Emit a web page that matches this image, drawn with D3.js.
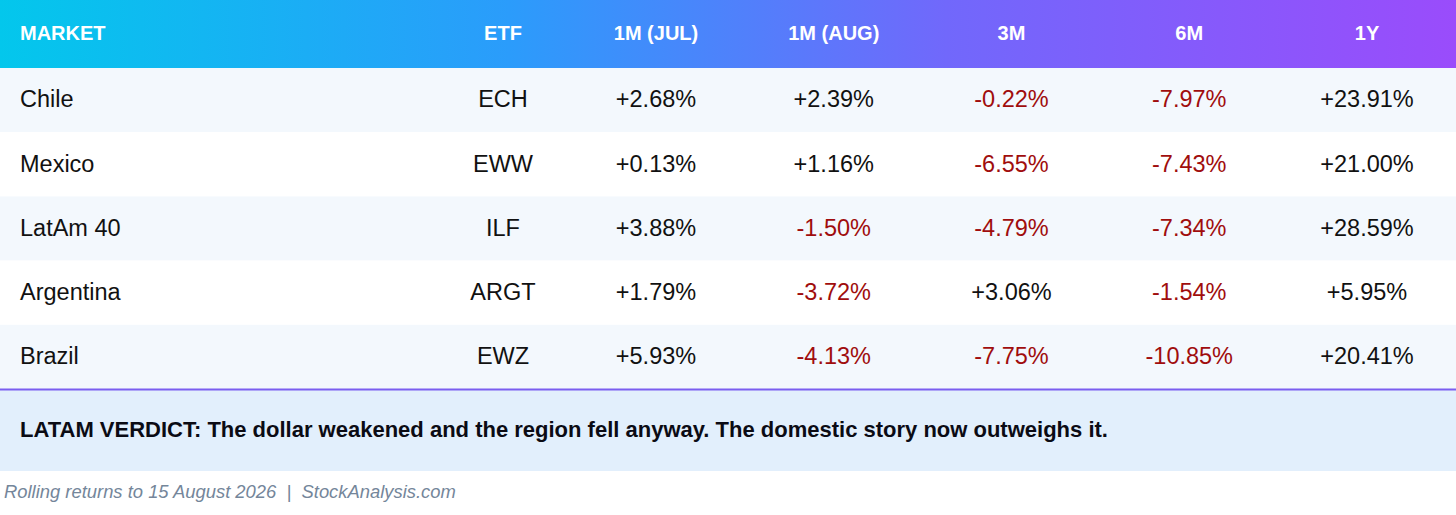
<!DOCTYPE html>
<html>
<head>
<meta charset="utf-8">
<script src="https://cdn.jsdelivr.net/npm/d3@7"></script>
<style>
  html, body { margin: 0; padding: 0; background: #fff; }
  svg { display: block; font-family: "Liberation Sans", Arial, sans-serif; }
</style>
</head>
<body>
<svg id="chart" width="1456" height="515"></svg>
<script>
// table data
var headers = ["MARKET", "ETF", "1M (JUL)", "1M (AUG)", "3M", "6M", "1Y"];
var markets = ["Chile", "Mexico", "LatAm 40", "Argentina", "Brazil"];
var etfs = ["ECH", "EWW", "ILF", "ARGT", "EWZ"];
var julReturns = [2.68, 0.13, 3.88, 1.79, 5.93];
var augReturns = [2.39, 1.16, -1.50, -3.72, -4.13];
var threeMonth = [-0.22, -6.55, -4.79, 3.06, -7.75];
var sixMonth = [-7.97, -7.43, -7.34, -1.54, -10.85];
var oneYear = [23.91, 21.00, 28.59, 5.95, 20.41];
var verdict = "LATAM VERDICT: The dollar weakened and the region fell anyway. The domestic story now outweighs it.";
var footnote = "Rolling returns to 15 August 2026  |  StockAnalysis.com";

var W = 1456, headerH = 68, tableBottom = 389;
var svg = d3.select("#chart");

// gradient for header
var defs = svg.append("defs");
var grad = defs.append("linearGradient").attr("id", "hdr").attr("x1", "0%").attr("x2", "100%");
grad.append("stop").attr("offset", "0%").attr("stop-color", "#03c7ec");
grad.append("stop").attr("offset", "35%").attr("stop-color", "#2b9cfb");
grad.append("stop").attr("offset", "65%").attr("stop-color", "#7168fb");
grad.append("stop").attr("offset", "100%").attr("stop-color", "#9a4cfb");

var y = d3.scaleBand().domain(markets).range([headerH, tableBottom]);
// numeric columns evenly spaced, ETF column sits a bit closer
var xNum = d3.scalePoint().domain(headers.slice(2)).range([656, 1367]);
var colX = function(h, i){
  if (i == 0) return 20;
  if (i == 1) return 503;
  return xNum(h);
};

svg.append("rect").attr("x", 0).attr("y", 0).attr("width", W).attr("height", headerH).attr("fill", "url(#hdr)");

svg.selectAll("text.hdr").data(headers).enter().append("text")
  .attr("class", "hdr")
  .attr("x", function(d, i){ return colX(d, i); })
  .attr("y", headerH / 2 - 1)
  .attr("dy", "0.35em")
  .attr("text-anchor", function(d, i){ return i == 0 ? "start" : "middle"; })
  .attr("fill", "#fff")
  .attr("font-weight", "bold")
  .attr("font-size", 20)
  .text(function(d){ return d; });

var rows = markets.map(function(m, i){
  return { market: m, vals: [etfs[i], julReturns[i], augReturns[i], threeMonth[i], sixMonth[i], oneYear[i]] };
});

var g = svg.selectAll("g.row").data(rows).enter().append("g").attr("class", "row")
  .attr("transform", function(d){ return "translate(0," + y(d.market) + ")"; });

g.append("rect").attr("x", 0).attr("width", W).attr("height", y.bandwidth())
  .attr("fill", function(d, i){ return i % 2 == 0 ? "#f3f8fd" : "#ffffff"; });

g.append("text").attr("x", 20).attr("y", y.bandwidth() / 2 - 1).attr("dy", "0.35em")
  .attr("font-size", 23.5).attr("fill", "#111")
  .text(function(d){ return d.market; });

var fmt = function(v){ return (v >= 0 ? "+" : "") + v.toFixed(2) + "%"; };

g.selectAll("text.cell").data(function(d){ return d.vals; }).enter().append("text")
  .attr("class", "cell")
  .attr("x", function(d, i){ return colX(headers[i + 1], i + 1); })
  .attr("y", y.bandwidth() / 2 - 1).attr("dy", "0.35em")
  .attr("text-anchor", "middle").attr("font-size", 23.5)
  .attr("fill", function(d){ return (typeof d == "number" && d < 0) ? "#a00d0d" : "#111"; })
  .text(function(d){ return typeof d == "number" ? fmt(d) : d; });

// verdict box
svg.append("rect").attr("x", 0).attr("y", tableBottom).attr("width", W).attr("height", 82).attr("fill", "#e2effc");
svg.append("line").attr("x1", 0).attr("x2", W).attr("y1", tableBottom + 0.5).attr("y2", tableBottom + 0.5)
  .attr("stroke", "#7b5ef0").attr("stroke-width", 2);
svg.append("text").attr("x", 20).attr("y", 429).attr("dy", "0.35em")
  .attr("font-size", 22).attr("font-weight", "bold").attr("fill", "#0b0b14")
  .text(verdict);

svg.append("text").attr("x", 4).attr("y", 492).attr("dy", "0.35em")
  .attr("font-size", 18.4).attr("font-style", "italic").attr("fill", "#74869a")
  .attr("xml:space", "preserve").style("white-space", "pre")
  .text(footnote);
</script>
</body>
</html>
